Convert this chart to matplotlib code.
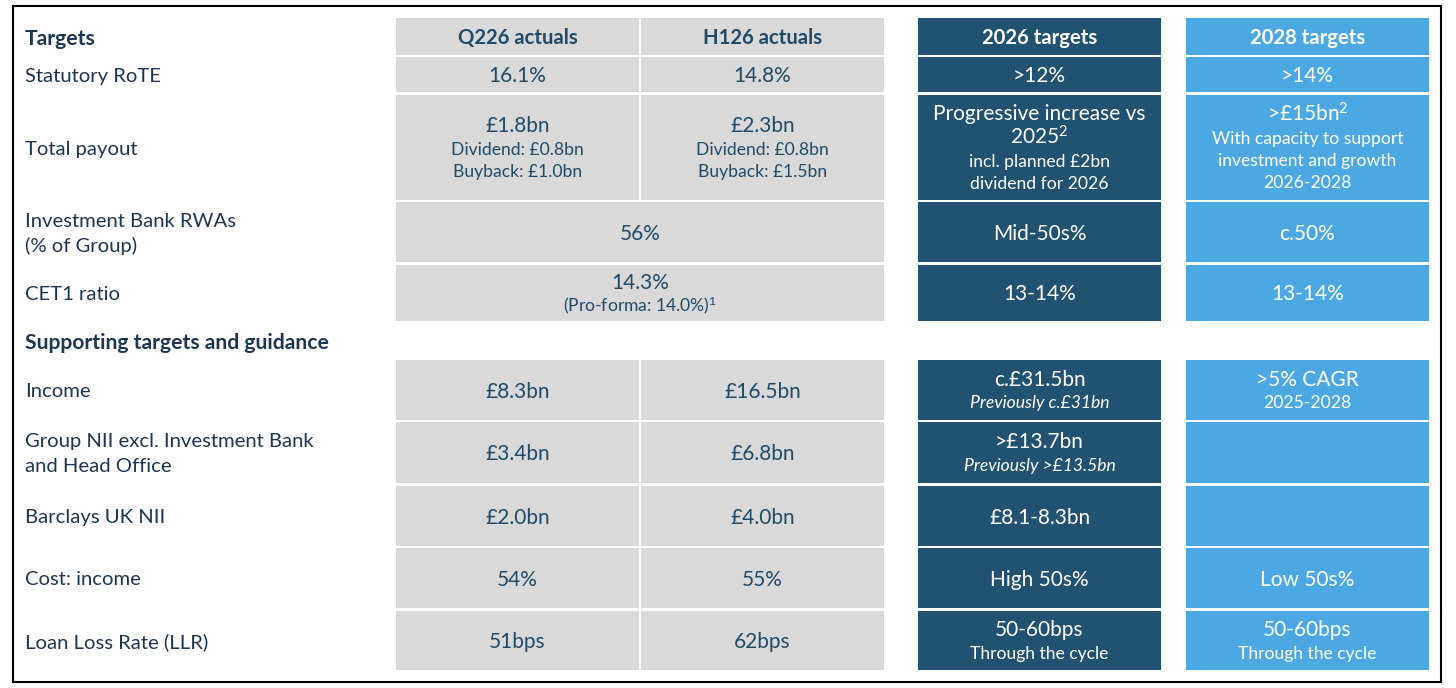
import matplotlib.pyplot as plt
from matplotlib.patches import Rectangle

plt.rcParams['font.family'] = ['Lato', 'DejaVu Sans']
plt.rcParams['mathtext.fontset'] = 'custom'
plt.rcParams['mathtext.rm'] = 'Lato'
plt.rcParams['mathtext.default'] = 'rm'

# --- data ---
col_headers = ["Q226 actuals", "H126 actuals", "2026 targets", "2028 targets"]

target_labels = ["Statutory RoTE", "Total payout", "Investment Bank RWAs\n(% of Group)", "CET1 ratio"]
q226_main = ["16.1%", "£1.8bn", "56%", "14.3%"]
q226_sub = ["", "Dividend: £0.8bn\nBuyback: £1.0bn", "", "(Pro-forma: 14.0%)$^1$"]
h126_main = ["14.8%", "£2.3bn", "", ""]
h126_sub = ["", "Dividend: £0.8bn\nBuyback: £1.5bn", "", ""]
merged_rows = [2, 3]  # Q226 and H126 shown as one cell
t2026_main = [">12%", "Progressive increase vs\n2025$^2$", "Mid-50s%", "13-14%"]
t2026_sub = ["", "incl. planned £2bn\ndividend for 2026", "", ""]
t2028_main = [">14%", ">£15bn$^2$", "c.50%", "13-14%"]
t2028_sub = ["", "With capacity to support\ninvestment and growth\n2026-2028", "", ""]

support_labels = ["Income", "Group NII excl. Investment Bank\nand Head Office", "Barclays UK NII",
                  "Cost: income", "Loan Loss Rate (LLR)"]
sup_q226 = ["£8.3bn", "£3.4bn", "£2.0bn", "54%", "51bps"]
sup_h126 = ["£16.5bn", "£6.8bn", "£4.0bn", "55%", "62bps"]
sup_2026_main = ["c.£31.5bn", ">£13.7bn", "£8.1-8.3bn", "High 50s%", "50-60bps"]
sup_2026_sub = ["Previously c.£31bn", "Previously >£13.5bn", "", "", "Through the cycle"]
sup_2026_italic = [True, True, False, False, False]
sup_2028_main = [">5% CAGR", "", "", "Low 50s%", "50-60bps"]
sup_2028_sub = ["2025-2028", "", "", "", "Through the cycle"]

# --- layout (pixels) ---
col_x = [(396, 639), (641, 884), (918, 1161), (1186, 1429)]
header_y = (18, 55)
target_y = [(57, 92), (95, 200), (202, 262), (265, 321)]
support_y = [(360, 420), (422, 483), (486, 546), (548, 608), (611, 670)]

GRAY = '#d9d9d9'
DARK = '#225272'
LIGHT = '#4ca8e3'
NAVY = '#1c3755'
VAL = '#1f4b69'
MAIN_FS = 15
SUB_FS = 12.6
LABEL_FS = 14.6
HEAD_FS = 14.6
SECTION_FS = 15.2

fig = plt.figure(figsize=(14.56, 6.88), dpi=100)
ax = fig.add_axes([0, 0, 1, 1])
ax.set_xlim(0, 1456)
ax.set_ylim(688, 0)
ax.axis('off')


def put(x, y, s, fs, color, ha='center', weight='normal', style='normal'):
    # y is visual centre of the capitals
    ax.text(x, y + 0.36 * fs * 100 / 72, s, fontsize=fs, color=color, ha=ha, va='baseline',
            fontweight=weight, fontstyle=style)


def cell(x0, x1, y0, y1, fill, color, main='', sub='', italic=False, weight='normal', fs=MAIN_FS):
    ax.add_patch(Rectangle((x0, y0), x1 - x0, y1 - y0, facecolor=fill, edgecolor='none'))
    lines = []
    if main:
        lines += [(l, 'main') for l in main.split('\n')]
    if sub:
        lines += [(l, 'sub') for l in sub.split('\n')]
    if not lines:
        return
    pos = [0.0]
    for prev, cur in zip(lines[:-1], lines[1:]):
        if prev[1] == 'main' and cur[1] == 'main':
            gap = 25
        elif prev[1] == 'main':
            gap = 23.5
        else:
            gap = 22
        pos.append(pos[-1] + gap)
    shift = (y0 + y1) / 2 - (pos[0] + pos[-1]) / 2
    xc = (x0 + x1) / 2
    for (s, kind), p in zip(lines, pos):
        if kind == 'main':
            put(xc, p + shift, s, fs, color, weight=weight)
        else:
            put(xc, p + shift, s, SUB_FS, color, style='italic' if italic else 'normal')


# header row
fills = [GRAY, GRAY, DARK, LIGHT]
tcolors = [VAL, VAL, 'white', 'white']
for (x0, x1), h, f, c in zip(col_x, col_headers, fills, tcolors):
    cell(x0, x1, header_y[0], header_y[1], f, c, main=h, weight='bold', fs=HEAD_FS)
put(25, 37, "Targets", SECTION_FS, NAVY, ha='left', weight='bold')

# targets block
for i, (y0, y1) in enumerate(target_y):
    lab = target_labels[i].split('\n')
    for k, l in enumerate(lab):
        put(25, (y0 + y1) / 2 + (k - (len(lab) - 1) / 2) * 25, l, LABEL_FS, NAVY, ha='left')
    if i in merged_rows:
        cell(col_x[0][0], col_x[1][1], y0, y1, GRAY, VAL, q226_main[i], q226_sub[i])
    else:
        cell(*col_x[0], y0, y1, GRAY, VAL, q226_main[i], q226_sub[i])
        cell(*col_x[1], y0, y1, GRAY, VAL, h126_main[i], h126_sub[i])
    cell(*col_x[2], y0, y1, DARK, 'white', t2026_main[i], t2026_sub[i])
    cell(*col_x[3], y0, y1, LIGHT, 'white', t2028_main[i], t2028_sub[i])

put(25, 341, "Supporting targets and guidance", SECTION_FS, NAVY, ha='left', weight='bold')

# supporting block
for i, (y0, y1) in enumerate(support_y):
    lab = support_labels[i].split('\n')
    for k, l in enumerate(lab):
        put(25, (y0 + y1) / 2 + (k - (len(lab) - 1) / 2) * 25, l, LABEL_FS, NAVY, ha='left')
    cell(*col_x[0], y0, y1, GRAY, VAL, sup_q226[i])
    cell(*col_x[1], y0, y1, GRAY, VAL, sup_h126[i])
    cell(*col_x[2], y0, y1, DARK, 'white', sup_2026_main[i], sup_2026_sub[i], italic=sup_2026_italic[i])
    cell(*col_x[3], y0, y1, LIGHT, 'white', sup_2028_main[i], sup_2028_sub[i])

# outer frame
ax.add_patch(Rectangle((13, 6), 1428, 676, facecolor='none', edgecolor='black', linewidth=1.5))

fig.savefig('out.png', dpi=100)
